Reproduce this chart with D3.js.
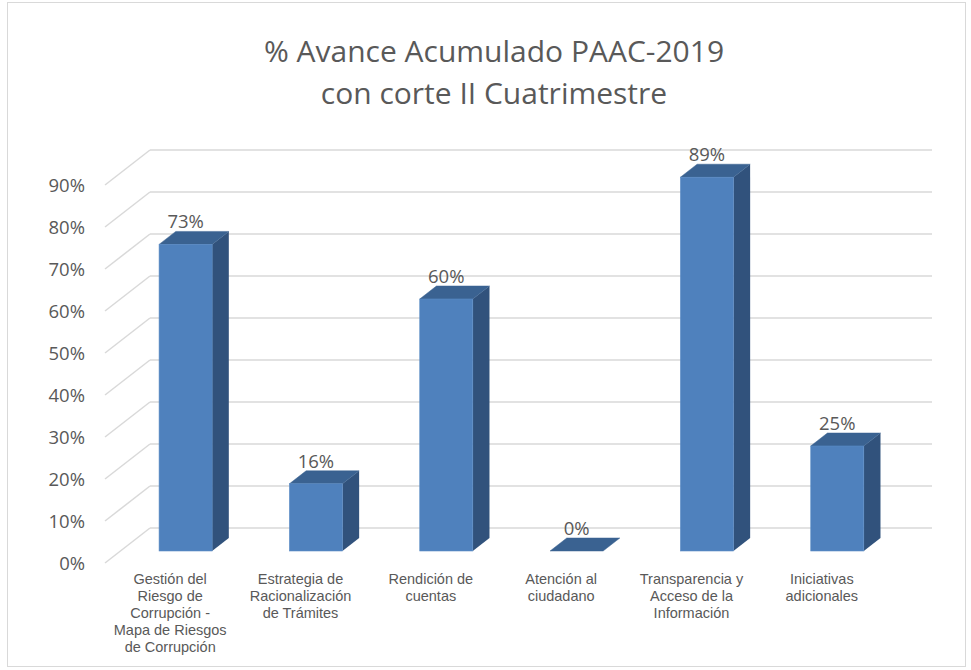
<!DOCTYPE html>
<html>
<head>
<meta charset="utf-8">
<script src="https://cdn.jsdelivr.net/npm/d3@7"></script>
<style>
  body { margin: 0; background: #fff; }
  svg { display: block; }
</style>
</head>
<body>
<div id="chart"></div>
<script>
// Données du graphique
const titleLines = ['% Avance Acumulado PAAC-2019', 'con corte II Cuatrimestre'];
const categories = [
    'Gestión del Riesgo de Corrupción - Mapa de Riesgos de Corrupción',
    'Estrategia de Racionalización de Trámites',
    'Rendición de cuentas',
    'Atención al ciudadano',
    'Transparencia y Acceso de la Información',
    'Iniciativas adicionales'
];
const categoryLines = [
    ['Gestión del', 'Riesgo de', 'Corrupción -', 'Mapa de Riesgos', 'de Corrupción'],
    ['Estrategia de', 'Racionalización', 'de Trámites'],
    ['Rendición de', 'cuentas'],
    ['Atención al', 'ciudadano'],
    ['Transparencia y', 'Acceso de la', 'Información'],
    ['Iniciativas', 'adicionales']
];
const values = [0.73, 0.16, 0.60, 0.00, 0.89, 0.25];
const yTicks = [0, 0.1, 0.2, 0.3, 0.4, 0.5, 0.6, 0.7, 0.8, 0.9];

const width = 971, height = 670;
const svg = d3.select('#chart').append('svg')
    .attr('width', width)
    .attr('height', height);

// Cadre du graphique
svg.append('rect')
    .attr('x', 7.5).attr('y', 2.5)
    .attr('width', 958).attr('height', 664)
    .attr('fill', '#fff')
    .attr('stroke', '#d9d9d9');

// Titre
svg.append('g').selectAll('text')
    .data(titleLines)
    .join('text')
    .attr('x', 494)
    .attr('y', (d, i) => 62 + i * 42)
    .attr('text-anchor', 'middle')
    .attr('font-family', '"Open Sans", sans-serif')
    .attr('font-size', 30)
    .attr('fill', '#595959')
    .text(d => d);

// Échelles (plan du mur du fond) + décalage de profondeur
const x = d3.scaleBand().domain(categories).range([150, 932]);
const y = d3.scaleLinear().domain([0, 0.9]).range([528, 150]);
const depthX = -45, depthY = 35; // du fond vers l'avant du sol
const tFront = 0.657, tBack = 0.286; // profondeur des barres
const barW = x.bandwidth() * 0.407;

// Grille: mur du fond + lignes diagonales sur la gauche
const grid = svg.append('g')
    .attr('stroke', '#d9d9d9')
    .attr('stroke-width', 1.5)
    .attr('fill', 'none');

grid.selectAll('line.back')
    .data(yTicks)
    .join('line')
    .attr('class', 'back')
    .attr('x1', x.range()[0]).attr('x2', x.range()[1])
    .attr('y1', d => y(d)).attr('y2', d => y(d));

grid.selectAll('line.side')
    .data(yTicks)
    .join('line')
    .attr('class', 'side')
    .attr('x1', x.range()[0] + depthX).attr('y1', d => y(d) + depthY)
    .attr('x2', x.range()[0]).attr('y2', d => y(d));

// Étiquettes de l'axe Y
svg.append('g').selectAll('text')
    .data(yTicks)
    .join('text')
    .attr('x', 85)
    .attr('y', d => y(d) + depthY + 2)
    .attr('text-anchor', 'end')
    .attr('dominant-baseline', 'middle')
    .attr('font-family', '"Open Sans", sans-serif')
    .attr('font-size', 18.5)
    .attr('fill', '#595959')
    .text(d => d3.format('.0%')(d));

// Barres 3D
const bars = svg.append('g').selectAll('g')
    .data(values.map((v, i) => ({ cat: categories[i], value: v })))
    .join('g');

function pt(px, py, t) {
    return [px + depthX * t, py + depthY * t];
}

bars.each(function(d) {
    const g = d3.select(this);
    const x0 = x(d.cat) + (x.bandwidth() - barW) / 2;
    const x1 = x0 + barW;
    const yTop = y(d.value), yBase = y(0);

    const fl = pt(x0, yTop, tFront), fr = pt(x1, yTop, tFront);
    const blb = pt(x0, yBase, tFront), brb = pt(x1, yBase, tFront);
    const bl = pt(x0, yTop, tBack), br = pt(x1, yTop, tBack);
    const brBase = pt(x1, yBase, tBack);

    // côté droit
    g.append('polygon')
        .attr('points', [fr, br, brBase, brb].map(p => p.join(',')).join(' '))
        .attr('fill', '#31527c');
    // dessus
    g.append('polygon')
        .attr('points', [fl, fr, br, bl].map(p => p.join(',')).join(' '))
        .attr('fill', '#3a6291')
        .attr('stroke', '#3a6291')
        .attr('stroke-width', 0.5);
    // face avant
    if (d.value > 0) {
        g.append('rect')
            .attr('x', fl[0]).attr('y', fl[1])
            .attr('width', barW).attr('height', blb[1] - fl[1])
            .attr('fill', '#4f81bd')
            .attr('stroke', '#5b8cc6')
            .attr('stroke-width', 0.6);
    }

    // étiquette de valeur
    g.append('text')
        .attr('x', (fl[0] + fr[0]) / 2)
        .attr('y', bl[1] - 3)
        .attr('text-anchor', 'middle')
        .attr('font-family', '"Open Sans", sans-serif')
        .attr('font-size', 18.5)
        .attr('fill', '#595959')
        .text(d3.format('.0%')(d.value));
});

// Étiquettes des catégories (plan avant du sol)
const catLabels = svg.append('g').selectAll('text')
    .data(categoryLines)
    .join('text')
    .attr('text-anchor', 'middle')
    .attr('font-family', '"Liberation Sans", Arial, sans-serif')
    .attr('font-size', 14.5)
    .attr('fill', '#595959');

catLabels.each(function(lines, i) {
    const cx = x(categories[i]) + x.bandwidth() / 2 + depthX;
    d3.select(this).selectAll('tspan')
        .data(lines)
        .join('tspan')
        .attr('x', cx)
        .attr('y', (d, j) => 584 + j * 17)
        .text(d => d);
});
</script>
</body>
</html>
